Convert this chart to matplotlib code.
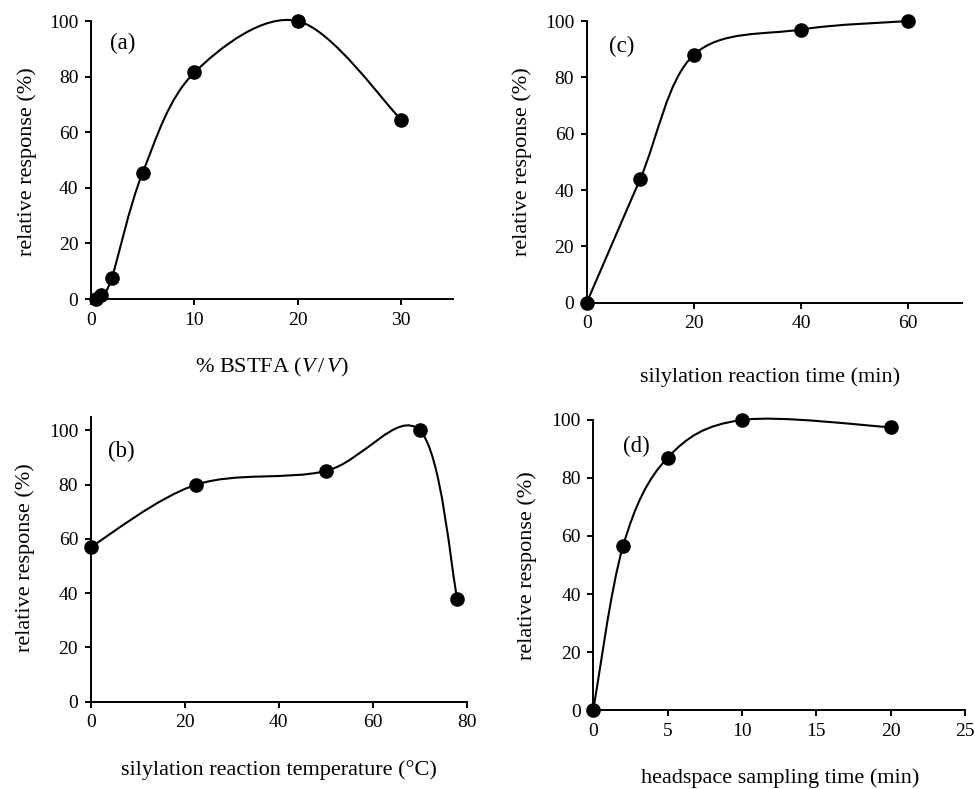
import matplotlib
matplotlib.use("Agg")
import matplotlib.pyplot as plt
from matplotlib.path import Path
from matplotlib.patches import PathPatch
import numpy as np

# --- Data ---
bstfa_pct = [0.5, 1, 2, 5, 10, 20, 30]
bstfa_resp = [0.0, 1.5, 7.5, 45.5, 81.5, 100, 64.5]

temp_c = [0, 22.5, 50, 70, 78]
temp_resp = [57, 80, 85, 100, 38]

sil_time = [0, 10, 20, 40, 60]
sil_resp = [0, 44, 88, 97, 100]

hs_time = [0, 2, 5, 10, 20]
hs_resp = [0, 56.5, 87, 100, 97.5]

YLABEL = "relative response (%)"

plt.rcParams["font.family"] = ["Liberation Serif", "DejaVu Serif"]
plt.rcParams["mathtext.fontset"] = "custom"
plt.rcParams["mathtext.rm"] = "Liberation Serif"
plt.rcParams["mathtext.it"] = "Liberation Serif:italic"


def smooth_line(ax, x, y):
    # Bezier through the points, built in screen space like a spreadsheet "smoothed line"
    pts = ax.transData.transform(np.column_stack([x, y]))
    n = len(pts)
    verts = [pts[0]]
    codes = [Path.MOVETO]
    for i in range(n - 1):
        p0 = pts[i - 1] if i > 0 else pts[i]
        p1 = pts[i]
        p2 = pts[i + 1]
        p3 = pts[i + 2] if i + 2 < n else pts[i + 1]
        c1 = p1 + (p2 - p0) / 6.0
        c2 = p2 - (p3 - p1) / 6.0
        verts += [c1, c2, p2]
        codes += [Path.CURVE4] * 3
    verts = ax.transData.inverted().transform(np.array(verts))
    patch = PathPatch(Path(verts, codes), fill=False, edgecolor="black",
                      linewidth=1.5, clip_on=False, zorder=2)
    ax.add_patch(patch)


def style_axes(ax, xlim, ylim, xticks):
    ax.set_xlim(*xlim)
    ax.set_ylim(*ylim)
    ax.set_xticks(xticks)
    ax.set_yticks(range(0, 101, 20))
    for side in ("top", "right"):
        ax.spines[side].set_visible(False)
    for side in ("left", "bottom"):
        ax.spines[side].set_linewidth(1.4)
    ax.tick_params(direction="out", length=4, width=1.4, labelsize=14, pad=5)


fig = plt.figure(figsize=(9.75, 7.89), dpi=100)

panels = [
    # rect, x, y, xlim, ylim, xticks, xlabel, tag, tag pos, xlabel pos, ylabel pos
    ([0.0933, 0.621, 0.3713, 0.3523], bstfa_pct, bstfa_resp, (0, 35), (0, 100),
     [0, 10, 20, 30], r"% BSTFA ($V\,/\,V$)", "(a)", (0.088, 0.92),
     (0.50, -0.248), (-0.177, 0.496)),
    ([0.6017, 0.6163, 0.3846, 0.357], sil_time, sil_resp, (0, 70), (0, 100),
     [0, 20, 40, 60], "silylation reaction time (min)", "(c)", (0.093, 0.909),
     (0.489, -0.263), (-0.173, 0.50)),
    ([0.093, 0.1106, 0.3856, 0.3612], temp_c, temp_resp, (0, 80), (0, 105),
     [0, 20, 40, 60, 80], "silylation reaction temperature (°C)", "(b)", (0.082, 0.877),
     (0.50, -0.24), (-0.175, 0.504)),
    ([0.6085, 0.1001, 0.3812, 0.3676], hs_time, hs_resp, (0, 25), (0, 100),
     [0, 5, 10, 15, 20, 25], "headspace sampling time (min)", "(d)", (0.117, 0.908),
     (0.504, -0.234), (-0.179, 0.497)),
]

for rect, x, y, xlim, ylim, xticks, xlabel, tag, tag_pos, xl_pos, yl_pos in panels:
    ax = fig.add_axes(rect)
    style_axes(ax, xlim, ylim, xticks)
    smooth_line(ax, x, y)
    ax.plot(x, y, "o", color="black", markersize=9.5, clip_on=False, zorder=3)
    ax.text(tag_pos[0], tag_pos[1], tag, transform=ax.transAxes,
            ha="center", va="center", fontsize=16.5)
    ax.set_xlabel(xlabel, fontsize=16, va="center")
    ax.set_ylabel(YLABEL, fontsize=16, va="center")
    ax.xaxis.set_label_coords(*xl_pos)
    ax.yaxis.set_label_coords(*yl_pos)

fig.savefig("out.png", dpi=100)
